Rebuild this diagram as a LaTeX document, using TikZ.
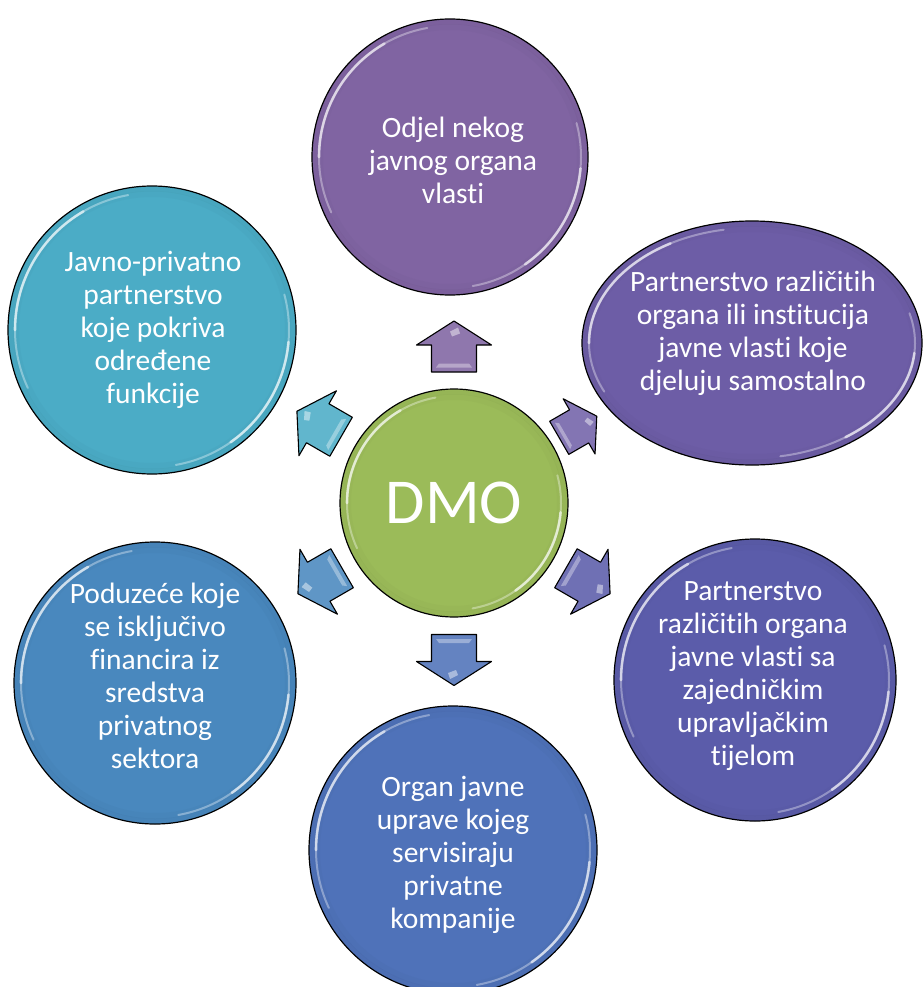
\documentclass[tikz,border=0pt]{standalone}
\usepackage{fontspec}
\setmainfont{Carlito}[Ligatures={NoCommon}]
\usetikzlibrary{shapes.geometric}
\definecolor{cTop}{RGB}{128,100,162}
\definecolor{cUR}{RGB}{109,93,166}
\definecolor{cLR}{RGB}{91,92,170}
\definecolor{cBot}{RGB}{79,114,185}
\definecolor{cLL}{RGB}{73,136,190}
\definecolor{cUL}{RGB}{75,172,198}
\definecolor{cMid}{RGB}{155,187,89}
\tikzset{
  ball/.style={circle, draw=black, line width=1.2pt, inner sep=0pt},
  txt/.style={text=white, align=center, font=\fontsize{29.5}{33}\selectfont, inner sep=0pt},
  arr/.style={draw=black, line width=1.1pt, line join=round},
  hl/.style={white, line cap=round, opacity=0.35, line width=2pt},
  hlb/.style={white, line cap=round, opacity=0.6, line width=2.6pt},
  blockarr/.pic={
    \path[pic actions] (0,25.5) -- (37.5,1.5) -- (22.5,1.5) -- (22.5,-25.5)
      -- (-22.5,-25.5) -- (-22.5,1.5) -- (-37.5,1.5) -- cycle;
    \fill[white, opacity=0.45] (-4,15) -- (4,19) -- (6,13) -- (-2,10) -- cycle;
    \fill[white, opacity=0.35] (-15,-17) -- (15,-17) -- (18,-21) -- (-18,-21) -- cycle;
  },
}
\newcommand\myglow[4]{%
  \draw[#4!70!black, opacity=0.10, line width=5pt] (#1,#2) circle[radius=#3-3];
  \draw[#4!70!black, opacity=0.06, line width=6pt] (#1,#2) circle[radius=#3-8];
  \draw[hl] ([shift={(100:#3-7)}]#1,#2) arc[start angle=100, end angle=205, radius=#3-7];
  \draw[hlb] ([shift={(120:#3-7)}]#1,#2) arc[start angle=120, end angle=180, radius=#3-7];
  \draw[hl] ([shift={(-80:#3-7)}]#1,#2) arc[start angle=-80, end angle=15, radius=#3-7];
  \draw[hlb] ([shift={(-55:#3-7)}]#1,#2) arc[start angle=-55, end angle=-5, radius=#3-7];
}
\begin{document}
\begin{tikzpicture}[x=1pt,y=1pt]
\useasboundingbox[fill=white] (0,0) rectangle (923,-987);

% outer circles
\node[ball, fill=cTop, minimum size=276pt] (top) at (450,-157) {};
\myglow{450}{-157}{138}{cTop}
\node[txt] (topt) at (453,-160) {Odjel nekog\\javnog organa\\vlasti};

\node[ellipse, draw=black, line width=1.2pt, fill=cUR, minimum width=340pt, minimum height=244pt, inner sep=0pt] (ur) at (752,-343) {};
\draw[cUR!70!black, opacity=0.10, line width=5pt] (752,-343) ellipse[x radius=167, y radius=119];
\draw[cUR!70!black, opacity=0.06, line width=6pt] (752,-343) ellipse[x radius=162, y radius=114];
\draw[hl] ([shift={(100:163 and 115)}]752,-343) arc[start angle=100, end angle=205, x radius=163, y radius=115];
\draw[hlb] ([shift={(120:163 and 115)}]752,-343) arc[start angle=120, end angle=180, x radius=163, y radius=115];
\draw[hl] ([shift={(-80:163 and 115)}]752,-343) arc[start angle=-80, end angle=15, x radius=163, y radius=115];
\draw[hlb] ([shift={(-55:163 and 115)}]752,-343) arc[start angle=-55, end angle=-5, x radius=163, y radius=115];
\node[txt] (urt) at (753,-333) {Partnerstvo različitih\\organa ili institucija\\javne vlasti koje\\djeluju samostalno};

\node[ball, fill=cLR, minimum size=282pt] (lr) at (755,-680) {};
\myglow{755}{-680}{141}{cLR}
\node[txt] (lrt) at (753,-676) {Partnerstvo\\različitih organa\\javne vlasti sa\\zajedničkim\\upravljačkim\\tijelom};

\node[ball, fill=cBot, minimum size=288pt] (bot) at (453,-850) {};
\myglow{453}{-850}{144}{cBot}
\node[txt] (bott) at (453,-855) {Organ javne\\uprave kojeg\\servisiraju\\privatne\\kompanije};

\node[ball, fill=cLL, minimum size=282pt] (ll) at (155,-683) {};
\myglow{155}{-683}{141}{cLL}
\node[txt] (llt) at (155,-676) {Poduzeće koje\\se isključivo\\financira iz\\sredstva\\privatnog\\sektora};

\node[ball, fill=cUL, minimum size=288pt] (ul) at (152,-330) {};
\myglow{152}{-330}{144}{cUL}
\node[txt] (ult) at (153,-330) {Javno-privatno\\partnerstvo\\koje pokriva\\određene\\funkcije};

% centre
\node[ball, fill=cMid, minimum size=228pt] (dmo) at (454,-503) {};
\myglow{454}{-503}{114}{cMid}
\node[text=white, font=\fontsize{64}{70}\selectfont, inner sep=0pt] (dmot) at (454,-503) {DMO};

% arrows
\pic[arr, fill=cTop!88!white] (a1) at (454,-346.5) {blockarr};
\pic[arr, fill=cUR!85!white, rotate=-60, scale=0.85] (a2) at (578,-427) {blockarr};
\pic[arr, fill=cLR!88!white, rotate=-120] (a3) at (588,-581) {blockarr};
\pic[arr, fill=cBot!88!white, rotate=180] (a4) at (454,-660) {blockarr};
\pic[arr, fill=cLL!88!white, rotate=120] (a5) at (320,-581) {blockarr};
\pic[arr, fill=cUL!88!white, rotate=60] (a6) at (319,-424) {blockarr};
\end{tikzpicture}
\end{document}
